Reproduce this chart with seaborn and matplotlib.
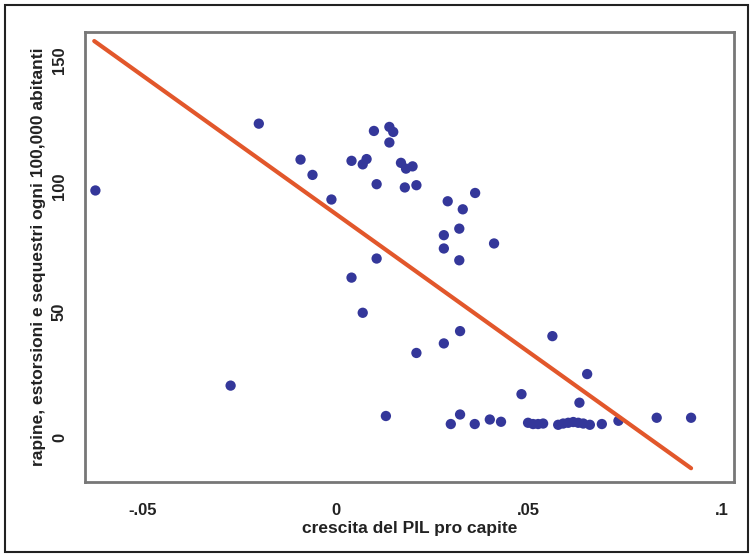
import matplotlib
matplotlib.use("Agg")
import matplotlib.pyplot as plt
import matplotlib.patches as mpatches
import pandas as pd
import seaborn as sns

# ── data ──────────────────────────────────────────────────────
gdp_growth = [
    -0.0622, -0.0272, -0.0199, -0.0091, -0.0060, -0.0011, 0.0041, 0.0070,
    0.0080, 0.0099, 0.0106, 0.0106, 0.0041, 0.0139, 0.0149, 0.0139,
    0.0169, 0.0182, 0.0199, 0.0179, 0.0209, 0.0290, 0.0329, 0.0361,
    0.0280, 0.0280, 0.0320, 0.0320, 0.0410, 0.0070, 0.0322, 0.0280,
    0.0209, 0.0561, 0.0651, 0.0481, 0.0631, 0.0130, 0.0298, 0.0322,
    0.0360, 0.0399, 0.0428, 0.0498, 0.0511, 0.0524, 0.0537, 0.0576,
    0.0589, 0.0602, 0.0615, 0.0628, 0.0641, 0.0658, 0.0689, 0.0732,
    0.0831, 0.0920,
]
crime_rate = [
    98.2, 20.5, 124.8, 110.5, 104.4, 94.6, 110.0, 108.6,
    110.7, 121.9, 100.7, 71.1, 63.5, 123.5, 121.5, 117.3,
    109.2, 106.9, 107.8, 99.4, 100.3, 93.9, 90.7, 97.2,
    80.4, 75.1, 83.0, 70.4, 77.1, 49.5, 42.2, 37.3,
    33.5, 40.2, 25.1, 17.1, 13.7, 8.4, 5.2, 9.0,
    5.2, 7.0, 6.1, 5.7, 5.2, 5.2, 5.4, 4.9,
    5.4, 5.7, 6.0, 5.7, 5.4, 4.9, 5.2, 6.5,
    7.7, 7.7,
]
# fitted line end points (as drawn in the reference)
fit_x = [-0.0625, 0.0920]
fit_y = [157.7, -12.4]

x_ticks = [-0.05, 0, 0.05, 0.1]
x_tick_labels = ["-.05", "0", ".05", ".1"]
y_ticks = [0, 50, 100, 150]

df = pd.DataFrame({"x": gdp_growth, "y": crime_rate})
fit = pd.DataFrame({"x": fit_x, "y": fit_y})

sns.set_theme(style="white")
plt.rcParams["font.family"] = ["Liberation Sans Narrow", "Liberation Sans", "DejaVu Sans"]

fig = plt.figure(figsize=(7.52, 5.56), dpi=100)
ax = fig.add_axes([0.113, 0.133, 0.863, 0.809])

sns.scatterplot(data=df, x="x", y="y", ax=ax, s=55, color="#34379a",
                edgecolor="none", zorder=2)
sns.lineplot(data=fit, x="x", y="y", ax=ax, color="#e2572b",
             linewidth=3, zorder=3)

ax.set_xlim(-0.0649, 0.1031)
ax.set_ylim(-17.9, 161.2)
ax.set_xticks(x_ticks)
ax.set_xticklabels(x_tick_labels, fontweight="bold")
ax.set_yticks(y_ticks)
ax.set_yticklabels([str(v) for v in y_ticks], rotation=90, va="center",
                   fontweight="bold")

ax.tick_params(axis="both", direction="out", length=6, width=1.2,
               color="#333333", labelsize=12, labelcolor="#222222")
ax.tick_params(axis="x", pad=9)
ax.tick_params(axis="y", pad=7)
for sp in ax.spines.values():
    sp.set_color("#777777")
    sp.set_linewidth(2)

ax.set_xlabel("crescita del PIL pro capite", fontsize=12.5, color="#222222",
              labelpad=2, fontweight="bold")
ax.set_ylabel("rapine, estorsioni e sequestri ogni 100,000 abitanti",
              fontsize=12.5, color="#222222", labelpad=4, fontweight="bold")

# outer frame round the whole graph
fig.patches.append(mpatches.Rectangle((5 / 752, 4 / 556), 743 / 752, 547 / 556,
                                      transform=fig.transFigure, fill=False,
                                      edgecolor="#222222", linewidth=1.5))

fig.savefig("out.png", dpi=100)
